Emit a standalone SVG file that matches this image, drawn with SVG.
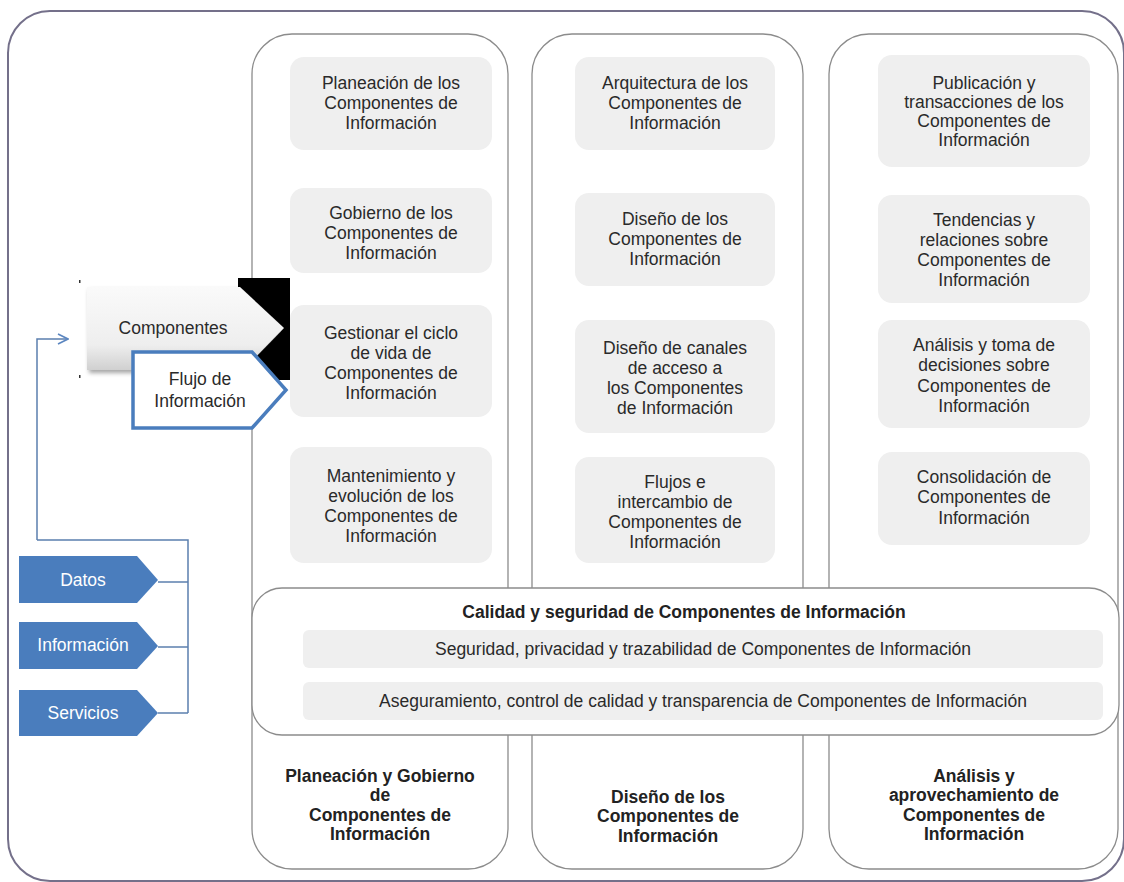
<svg xmlns="http://www.w3.org/2000/svg" width="1124" height="882" viewBox="0 0 1124 882">
<defs>
<style>
.frame{fill:none;stroke:#74708a;stroke-width:2}
.col{fill:#fff;stroke:#8c8c8c;stroke-width:1.3}
.box{fill:#efefef}
.t{font-family:"Liberation Sans",Arial,sans-serif;font-size:17.5px;fill:#2a2a2a;text-anchor:middle}
.tb{font-family:"Liberation Sans",Arial,sans-serif;font-size:17.5px;font-weight:bold;fill:#222;text-anchor:middle}
.tw{font-family:"Liberation Sans",Arial,sans-serif;font-size:17.5px;fill:#fff;text-anchor:middle}
.blue{fill:#4a7dbd}
.conn{fill:none;stroke:#5b7fae;stroke-width:1.5}
</style>
<linearGradient id="gComp" x1="0" y1="0" x2="0" y2="1">
<stop offset="0" stop-color="#fafafa"/>
<stop offset="0.7" stop-color="#eeeeee"/>
<stop offset="1" stop-color="#d0d0d0"/>
</linearGradient>
<filter id="sh" x="-10%" y="-10%" width="130%" height="130%">
<feDropShadow dx="2" dy="3" stdDeviation="2" flood-color="#000" flood-opacity="0.35"/>
</filter>
<marker id="openArrow" viewBox="0 0 12 12" refX="11" refY="6" markerWidth="12" markerHeight="12" markerUnits="userSpaceOnUse" orient="auto">
<path d="M1,1 L11,6 L1,11" fill="none" stroke="#5b86c0" stroke-width="1.6"/>
</marker>
</defs>

<rect class="frame" x="8" y="11" width="1116" height="870" rx="42" ry="42"/>

<g id="col1">
<rect class="col" x="252" y="34" width="256" height="835" rx="40" ry="40"/>
</g>
<g id="col2">
<rect class="col" x="532" y="34" width="271" height="835" rx="40" ry="40"/>
</g>
<g id="col3">
<rect class="col" x="829" y="34" width="289" height="835" rx="40" ry="40"/>
</g>

<g id="planeacion">
<rect class="box" x="290" y="57" width="202" height="93" rx="14"/>
<text class="t" x="391" y="89">Planeación de los</text>
<text class="t" x="391" y="109">Componentes de</text>
<text class="t" x="391" y="129">Información</text>
</g>
<g id="gobierno">
<rect class="box" x="290" y="188" width="202" height="85" rx="14"/>
<text class="t" x="391" y="219">Gobierno de los</text>
<text class="t" x="391" y="239">Componentes de</text>
<text class="t" x="391" y="259">Información</text>
</g>
<g id="gestionar">
<rect class="box" x="290" y="305" width="202" height="112" rx="14"/>
<text class="t" x="391" y="339">Gestionar el  ciclo</text>
<text class="t" x="391" y="359">de vida de</text>
<text class="t" x="391" y="379">Componentes de</text>
<text class="t" x="391" y="399">Información</text>
</g>
<g id="mantenimiento">
<rect class="box" x="290" y="447" width="202" height="116" rx="14"/>
<text class="t" x="391" y="482">Mantenimiento y</text>
<text class="t" x="391" y="502">evolución de los</text>
<text class="t" x="391" y="522">Componentes de</text>
<text class="t" x="391" y="542">Información</text>
</g>

<g id="arquitectura">
<rect class="box" x="575" y="57" width="200" height="93" rx="14"/>
<text class="t" x="675" y="89">Arquitectura de los</text>
<text class="t" x="675" y="109">Componentes de</text>
<text class="t" x="675" y="129">Información</text>
</g>
<g id="diseno">
<rect class="box" x="575" y="193" width="200" height="93" rx="14"/>
<text class="t" x="675" y="225">Diseño de los</text>
<text class="t" x="675" y="245">Componentes de</text>
<text class="t" x="675" y="265">Información</text>
</g>
<g id="canales">
<rect class="box" x="575" y="320" width="200" height="113" rx="14"/>
<text class="t" x="675" y="354">Diseño de canales</text>
<text class="t" x="675" y="374">de acceso a</text>
<text class="t" x="675" y="394">los Componentes</text>
<text class="t" x="675" y="414">de Información</text>
</g>
<g id="flujos">
<rect class="box" x="575" y="457" width="200" height="106" rx="14"/>
<text class="t" x="675" y="488">Flujos e</text>
<text class="t" x="675" y="508">intercambio de</text>
<text class="t" x="675" y="528">Componentes de</text>
<text class="t" x="675" y="548">Información</text>
</g>

<g id="publicacion">
<rect class="box" x="878" y="55" width="212" height="112" rx="14"/>
<text class="t" x="984" y="89">Publicación y</text>
<text class="t" x="984" y="108">transacciones de los</text>
<text class="t" x="984" y="127">Componentes de</text>
<text class="t" x="984" y="146">Información</text>
</g>
<g id="tendencias">
<rect class="box" x="878" y="195" width="212" height="108" rx="14"/>
<text class="t" x="984" y="226">Tendencias y</text>
<text class="t" x="984" y="246">relaciones sobre</text>
<text class="t" x="984" y="266">Componentes de</text>
<text class="t" x="984" y="286">Información</text>
</g>
<g id="analisis">
<rect class="box" x="878" y="320" width="212" height="108" rx="14"/>
<text class="t" x="984" y="351">Análisis y toma de</text>
<text class="t" x="984" y="371">decisiones sobre</text>
<text class="t" x="984" y="392">Componentes de</text>
<text class="t" x="984" y="412">Información</text>
</g>
<g id="consolidacion">
<rect class="box" x="878" y="452" width="212" height="93" rx="14"/>
<text class="t" x="984" y="483">Consolidación de</text>
<text class="t" x="984" y="503">Componentes de</text>
<text class="t" x="984" y="524">Información</text>
</g>

<g id="calidad">
<rect class="col" x="252" y="588" width="867" height="147" rx="30" ry="30"/>
<text class="tb" x="684" y="618">Calidad y seguridad  de Componentes de Información</text>
<rect class="box" x="303" y="630" width="800" height="38" rx="6"/>
<text class="t" x="703" y="655">Seguridad, privacidad y trazabilidad de Componentes de Información</text>
<rect class="box" x="303" y="682" width="800" height="38" rx="6"/>
<text class="t" x="703" y="707">Aseguramiento, control de calidad y transparencia de Componentes de Información</text>
</g>

<g id="label1">
<text class="tb" x="380" y="782">Planeación y Gobierno</text>
<text class="tb" x="380" y="801">de</text>
<text class="tb" x="380" y="821">Componentes de</text>
<text class="tb" x="380" y="840">Información</text>
</g>
<g id="label2">
<text class="tb" x="668" y="803">Diseño de los</text>
<text class="tb" x="668" y="822">Componentes de</text>
<text class="tb" x="668" y="842">Información</text>
</g>
<g id="label3">
<text class="tb" x="974" y="782">Análisis y</text>
<text class="tb" x="974" y="801">aprovechamiento de</text>
<text class="tb" x="974" y="821">Componentes de</text>
<text class="tb" x="974" y="840">Información</text>
</g>

<g id="connectors">
<path class="conn" d="M37,540 L37,339 L68,339" stroke="#5b86c0" marker-end="url(#openArrow)"/>
<path class="conn" d="M37,540 L188,540 L188,713"/>
<path class="conn" d="M158,582 L188,582"/>
<path class="conn" d="M158,647 L188,647"/>
<path class="conn" d="M158,713 L188,713"/>
</g>

<g id="componentes">
<rect x="238" y="278" width="52" height="102" fill="#000"/>
<rect x="79" y="280" width="1.5" height="3" fill="#333"/>
<rect x="79" y="375" width="1.5" height="3" fill="#333"/>
<polygon points="87,287 240,287 284,328 243,370 87,370" fill="url(#gComp)" filter="url(#sh)"/>
<text class="t" x="173" y="334">Componentes</text>
</g>
<g id="flujo">
<polygon points="133,352 252,352 286,390 252,428 133,428" fill="#fff" stroke="#4a7dbd" stroke-width="3.5"/>
<text class="t" x="200" y="385">Flujo de</text>
<text class="t" x="200" y="407">Información</text>
</g>

<g id="datos">
<polygon class="blue" points="19,556 137,556 158,580 137,603 19,603"/>
<text class="tw" x="83" y="586">Datos</text>
</g>
<g id="informacion">
<polygon class="blue" points="19,622 137,622 158,646 137,669 19,669"/>
<text class="tw" x="83" y="651">Información</text>
</g>
<g id="servicios">
<polygon class="blue" points="19,690 137,690 158,713 137,736 19,736"/>
<text class="tw" x="83" y="719">Servicios</text>
</g>
</svg>
